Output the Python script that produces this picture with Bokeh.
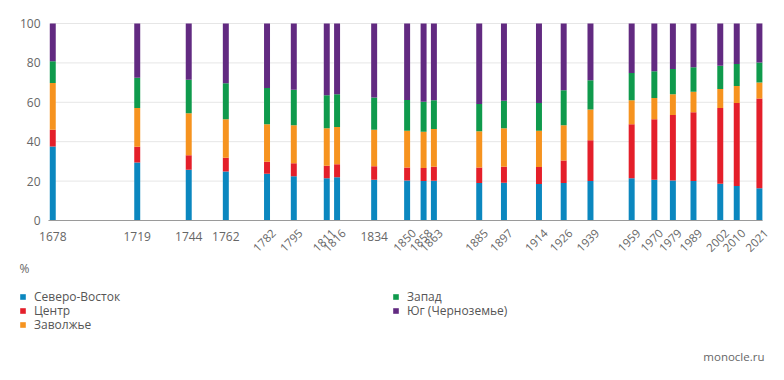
import math
from bokeh.plotting import figure
from bokeh.models import Legend, LegendItem, Label, Range1d
from bokeh.embed import file_html
from bokeh.resources import INLINE

years = [1678, 1719, 1744, 1762, 1782, 1795, 1811, 1816, 1834, 1850, 1858, 1863,
         1885, 1897, 1914, 1926, 1939, 1959, 1970, 1979, 1989, 2002, 2010, 2021]
north_east = [37.6, 29.5, 25.8, 24.9, 23.7, 22.5, 21.5, 22.0, 20.7, 20.3, 20.0, 20.2,
              19.0, 19.2, 18.5, 19.0, 20.0, 21.4, 20.7, 20.3, 20.0, 18.6, 17.5, 16.4]
center = [8.5, 8.0, 7.3, 7.0, 6.1, 6.5, 6.3, 6.5, 6.9, 6.6, 6.6, 7.1,
          7.9, 8.1, 8.6, 11.5, 20.7, 27.4, 30.7, 33.3, 34.9, 38.5, 42.2, 45.5]
volga = [23.7, 19.6, 21.3, 19.5, 19.0, 19.3, 19.0, 19.0, 18.5, 18.7, 18.5, 19.1,
         18.4, 19.5, 18.5, 17.8, 15.6, 12.2, 10.8, 10.5, 10.5, 9.7, 8.6, 8.1]
west = [11.0, 15.4, 17.0, 18.3, 18.5, 18.1, 16.8, 16.6, 16.3, 15.6, 15.2, 14.6,
        13.9, 14.0, 14.1, 17.8, 14.9, 13.9, 13.6, 12.8, 12.4, 11.7, 11.2, 10.2]
south = [19.2, 27.5, 28.6, 30.3, 32.7, 33.6, 36.4, 35.9, 37.6, 38.8, 39.7, 39.0,
         40.8, 39.2, 40.3, 33.9, 28.8, 25.1, 24.2, 23.1, 22.2, 21.5, 20.5, 19.8]
series_names = ["Северо-Восток", "Центр", "Заволжье", "Запад", "Юг (Черноземье)"]
series_keys = ["ne", "c", "v", "w", "s"]
colors = ["#0b87bf", "#e41f2a", "#f6931f", "#0f9a4c", "#622a81"]
flat_years = [1678, 1719, 1744, 1762, 1834]
y_ticks = [0, 20, 40, 60, 80, 100]
unit_label = "%"
source_label = "monocle.ru"

FONT = "Open Sans"
GREY = "#666666"

W, H = 776, 364
# plot area inside the canvas (pixels)
PL, PR, PT, PB = 50, 762, 23, 220
X0, X1 = 1676.9, 2022.5
Y0, Y1 = 0, 100
xs = (PR - PL) / (X1 - X0)
ys = (PB - PT) / (Y1 - Y0)

p = figure(width=W, height=H, output_backend="svg", toolbar_location=None,
           x_range=Range1d(X0 - PL / xs, X1 + (W - PR) / xs),
           y_range=Range1d(Y0 - (H - PB) / ys, Y1 + PT / ys),
           min_border=0)
p.outline_line_color = None
p.xaxis.visible = False
p.yaxis.visible = False
p.grid.grid_line_color = None

# grid lines
grid_y = [t for t in y_ticks if t != 0]
p.segment(x0=[X0] * len(grid_y), x1=[X1] * len(grid_y), y0=grid_y, y1=grid_y,
          line_color="#e6e6e6", line_width=1)

data = dict(year=years, ne=north_east, c=center, v=volga, w=west, s=south)
rs = p.vbar_stack(series_keys, x="year", width=2.9, color=colors, source=data,
                  line_color=None)

# x axis line
p.segment(x0=[X0 - 1], x1=[X1], y0=[0], y1=[0], line_color="#9a9a9a", line_width=1)

for t in y_ticks:
    p.add_layout(Label(x=40, y=t, x_units="screen", text=str(t), text_align="right",
                       text_baseline="middle", text_font=FONT,
                       text_font_size="12px", text_color=GREY))

for yr in years:
    if yr in flat_years:
        lab = Label(x=yr, y=-8.2, text=str(yr), text_align="center",
                    text_baseline="middle", text_font=FONT,
                    text_font_size="12px", text_color=GREY)
    else:
        lab = Label(x=yr, y=-4.0, x_offset=4, text=str(yr), text_align="right",
                    text_baseline="top", angle=math.pi / 4, text_font=FONT,
                    text_font_size="11.5px", text_color=GREY)
    p.add_layout(lab)

p.add_layout(Label(x=19, y=H - 267.5, x_units="screen", y_units="screen",
                   text=unit_label, text_align="left", text_baseline="middle",
                   text_font=FONT, text_font_size="12px", text_color=GREY))
p.add_layout(Label(x=764, y=H - 356, x_units="screen", y_units="screen",
                   text=source_label, text_align="right", text_baseline="middle",
                   text_font=FONT, text_font_size="11.5px", text_color=GREY))

# legend: three rows, first column = first three series, second = the rest
items = [LegendItem(label=n, renderers=[r]) for n, r in zip(series_names, rs)]
rows = [[items[0], items[3]], [items[1], items[4]], [items[2]]]
row_centers = [296.7, 310.7, 324.3]
for row, cy in zip(rows, row_centers):
    lg = Legend(items=row, location=(19, H - cy - 8.5), orientation="horizontal",
                padding=0, margin=0, spacing=0,
                glyph_width=7, glyph_height=7, label_standoff=8,
                label_width=358, label_height=14,
                label_text_font=FONT, label_text_font_size="12px",
                label_text_color="#555555", border_line_color=None,
                background_fill_alpha=0)
    p.add_layout(lg)

open("out.html", "w").write(file_html(p, INLINE))
